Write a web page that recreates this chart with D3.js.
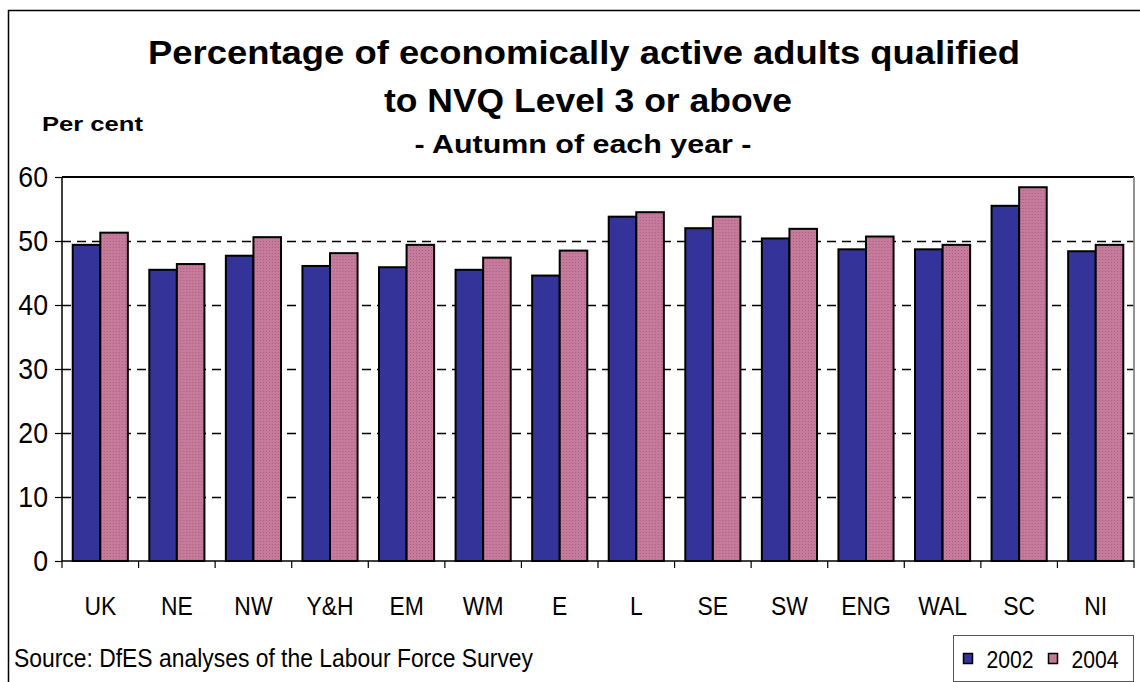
<!DOCTYPE html>
<html>
<head>
<meta charset="utf-8">
<script src="https://cdn.jsdelivr.net/npm/d3@7"></script>
<style>
  body { margin: 0; background: #fff; }
  svg { font-family: "Liberation Sans", Arial, sans-serif; }
</style>
</head>
<body>
<div id="chart"></div>
<script>
const regions = ['UK', 'NE', 'NW', 'Y&H', 'EM', 'WM', 'E', 'L', 'SE', 'SW', 'ENG', 'WAL', 'SC', 'NI'];
const years = ['2002', '2004'];
const values2002 = [49.4, 45.5, 47.7, 46.1, 45.9, 45.5, 44.6, 53.8, 52.0, 50.4, 48.7, 48.7, 55.5, 48.4];
const values2004 = [51.3, 46.4, 50.6, 48.1, 49.4, 47.4, 48.5, 54.5, 53.8, 51.9, 50.7, 49.4, 58.4, 49.4];
const yTicks = [0, 10, 20, 30, 40, 50, 60];

const width = 1140;
const height = 682;
const margin = { top: 177, right: 6, bottom: 121, left: 62 };

const svg = d3.select('#chart')
    .append('svg')
    .attr('width', width)
    .attr('height', height);

// squeeze text horizontally, the original uses a narrow face
const narrow = (sel, f) => sel.each(function() {
    const len = this.getComputedTextLength();
    d3.select(this).attr('textLength', len * f).attr('lengthAdjust', 'spacingAndGlyphs');
});

// dotted fill used for the 2004 bars
const defs = svg.append('defs');
const pat = defs.append('pattern')
    .attr('id', 'pinkdots')
    .attr('width', 3)
    .attr('height', 3)
    .attr('patternUnits', 'userSpaceOnUse');
pat.append('rect').attr('width', 3).attr('height', 3).attr('fill', '#c67b9c');
pat.append('rect').attr('x', 1).attr('y', 1).attr('width', 1).attr('height', 1).attr('fill', '#a95d7d');

const colors = { '2002': '#333399', '2004': 'url(#pinkdots)' };
const swatch = { '2002': '#333399', '2004': '#c27a9a' };

// outer frame
svg.append('path')
    .attr('d', `M8.5,${height} V10.5 H${width}`)
    .attr('fill', 'none')
    .attr('stroke', '#000')
    .attr('stroke-width', 1.5);

const innerW = width - margin.left - margin.right;
const innerH = height - margin.top - margin.bottom;

const g = svg.append('g')
    .attr('transform', `translate(${margin.left},${margin.top})`);

const x0 = d3.scaleBand()
    .domain(regions)
    .range([0, innerW])
    .paddingInner(0.28)
    .paddingOuter(0.14);

const x1 = d3.scaleBand()
    .domain(years)
    .range([0, x0.bandwidth()]);

const y = d3.scaleLinear()
    .domain([0, 60])
    .range([innerH, 0]);

// dashed gridlines
g.selectAll('.grid')
    .data(yTicks.filter(d => d > 0 && d < 60))
    .enter()
    .append('line')
    .attr('x1', 0)
    .attr('x2', innerW)
    .attr('y1', d => Math.round(y(d)) + 0.5)
    .attr('y2', d => Math.round(y(d)) + 0.5)
    .attr('stroke', '#000')
    .attr('stroke-width', 1.3)
    .attr('stroke-dasharray', '9,6');

// plot border top/right
g.append('line').attr('x1', 0).attr('x2', innerW).attr('y1', 0).attr('y2', 0)
    .attr('stroke', '#000').attr('stroke-width', 1.8);
g.append('line').attr('x1', innerW).attr('x2', innerW).attr('y1', 0).attr('y2', innerH)
    .attr('stroke', '#888').attr('stroke-width', 1.8);

const rows = regions.map((r, i) => ({ region: r, '2002': values2002[i], '2004': values2004[i] }));

const groups = g.selectAll('.group')
    .data(rows)
    .enter()
    .append('g')
    .attr('transform', d => `translate(${x0(d.region)},0)`);

groups.selectAll('rect')
    .data(d => years.map(k => ({ key: k, value: d[k] })))
    .enter()
    .append('rect')
    .attr('x', d => x1(d.key))
    .attr('y', d => y(d.value))
    .attr('width', x1.bandwidth())
    .attr('height', d => innerH - y(d.value))
    .attr('fill', d => colors[d.key])
    .attr('stroke', '#000')
    .attr('stroke-width', 2);

// y axis
const yAxis = g.append('g')
    .call(d3.axisLeft(y).tickValues(yTicks).tickSize(7).tickPadding(7));
yAxis.select('.domain').attr('stroke', '#000').attr('stroke-width', 1.5).attr('d', `M0,0V${innerH}`);
yAxis.selectAll('.tick line').attr('stroke-width', 1.2);
yAxis.selectAll('text')
    .style('font-size', '29px')
    .style('font-family', '"Liberation Sans", Arial, sans-serif')
    .attr('fill', '#000')
    .call(narrow, 0.92);

// x axis: ticks at category boundaries
const boundaries = regions.map((r, i) => i * innerW / regions.length).concat([innerW]);
g.append('line')
    .attr('x1', 0).attr('x2', innerW)
    .attr('y1', innerH).attr('y2', innerH)
    .attr('stroke', '#000').attr('stroke-width', 1.5);
g.selectAll('.xtick')
    .data(boundaries)
    .enter()
    .append('line')
    .attr('x1', d => d).attr('x2', d => d)
    .attr('y1', innerH).attr('y2', innerH + 7)
    .attr('stroke', '#000').attr('stroke-width', 1.2);

g.selectAll('.xlabel')
    .data(regions)
    .enter()
    .append('text')
    .attr('x', d => x0(d) + x0.bandwidth() / 2)
    .attr('y', innerH + 54)
    .attr('text-anchor', 'middle')
    .style('font-size', '26px')
    .text(d => d)
    .call(narrow, 0.88);

// titles
svg.append('text')
    .attr('x', 584).attr('y', 64)
    .attr('text-anchor', 'middle')
    .attr('textLength', 872).attr('lengthAdjust', 'spacingAndGlyphs')
    .style('font-size', '34px').style('font-weight', 'bold')
    .text('Percentage of economically active adults qualified');

svg.append('text')
    .attr('x', 588).attr('y', 112)
    .attr('text-anchor', 'middle')
    .attr('textLength', 408).attr('lengthAdjust', 'spacingAndGlyphs')
    .style('font-size', '34px').style('font-weight', 'bold')
    .text('to NVQ Level 3 or above');

svg.append('text')
    .attr('x', 583).attr('y', 153)
    .attr('text-anchor', 'middle')
    .attr('textLength', 337).attr('lengthAdjust', 'spacingAndGlyphs')
    .style('font-size', '25px').style('font-weight', 'bold')
    .text('- Autumn of each year -');

svg.append('text')
    .attr('x', 42).attr('y', 131)
    .attr('textLength', 101).attr('lengthAdjust', 'spacingAndGlyphs')
    .style('font-size', '21px').style('font-weight', 'bold')
    .text('Per cent');

svg.append('text')
    .attr('x', 14).attr('y', 667)
    .attr('textLength', 519).attr('lengthAdjust', 'spacingAndGlyphs')
    .style('font-size', '25px')
    .text('Source: DfES analyses of the Labour Force Survey');

// legend
const legend = svg.append('g').attr('transform', 'translate(953.5,635.5)');
legend.append('rect')
    .attr('width', 180).attr('height', 46)
    .attr('fill', '#fff').attr('stroke', '#555').attr('stroke-width', 1);
const items = legend.selectAll('.item')
    .data(years)
    .enter()
    .append('g')
    .attr('transform', (d, i) => `translate(${10 + i * 85},0)`);
items.append('rect')
    .attr('y', 18).attr('width', 9).attr('height', 10)
    .attr('fill', d => swatch[d]).attr('stroke', '#000').attr('stroke-width', 1.5);
items.append('text')
    .attr('x', 23).attr('y', 32)
    .style('font-size', '23px')
    .text(d => d)
    .call(narrow, 0.92);
</script>
</body>
</html>
